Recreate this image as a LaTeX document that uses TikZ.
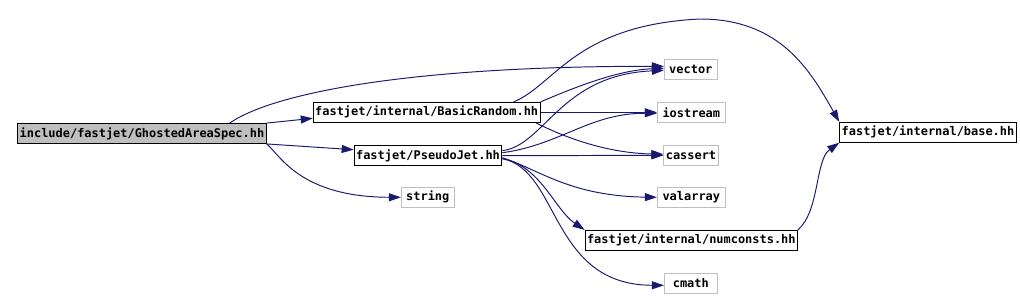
\documentclass[tikz,border=0pt]{standalone}
\usepackage{fontspec}
\setmonofont{DejaVu Sans Mono}
\usepackage{xcolor}
\usepackage{tikz}
\usetikzlibrary{arrows.meta}
\usetikzlibrary{backgrounds}
\usetikzlibrary{calc}
\pgfdeclarelayer{edgelayer}
\pgfdeclarelayer{nodelayer}
\pgfsetlayers{background,edgelayer,nodelayer,main}
\definecolor{incblue}{RGB}{25,25,112}
\definecolor{sysgray}{RGB}{191,191,191}
\tikzstyle{fn}=[draw=black,fill=white,line width=0.5pt,inner xsep=0.04cm,inner ysep=0mm,minimum height=0.4cm,font=\fontsize{6.8}{8}\selectfont\ttfamily\bfseries]
\tikzstyle{gn}=[fn,fill=sysgray]
\tikzstyle{sn}=[fn,draw=sysgray]
\tikzstyle{inc}=[draw=incblue,line width=0.55pt,-{Triangle[length=2.4mm,width=1.6mm]}]

\begin{document}
\begin{tikzpicture}[x=0.02cm,y=-0.02cm]
	\useasboundingbox (0,0) rectangle (1020,298);
	\begin{pgfonlayer}{nodelayer}
		\node [style=gn,minimum width=4.92cm] (main) at (142, 133.5) {include/fastjet/GhostedAreaSpec.hh};
		\node [style=fn,minimum width=4.54cm] (br) at (426.7, 112.3) {fastjet/internal/BasicRandom.hh};
		\node [style=fn,minimum width=2.86cm] (pj) at (428, 155.7) {fastjet/PseudoJet.hh};
		\node [style=sn,minimum width=1.06cm] (str) at (427.8, 197.3) {string};
		\node [style=sn,minimum width=1.06cm] (vec) at (690.8, 69.3) {vector};
		\node [style=sn,minimum width=1.36cm] (io) at (691.3, 112.3) {iostream};
		\node [style=sn,minimum width=1.08cm] (cas) at (691, 155.3) {cassert};
		\node [style=sn,minimum width=1.36cm] (val) at (691.3, 197.3) {valarray};
		\node [style=fn,minimum width=4.08cm] (num) at (691.3, 240.3) {fastjet/internal/numconsts.hh};
		\node [style=sn,minimum width=1.06cm] (cm) at (690.8, 283.3) {cmath};
		\node [style=fn,minimum width=3.26cm] (base) at (928, 132.3) {fastjet/internal/base.hh};
	\end{pgfonlayer}
	\begin{pgfonlayer}{edgelayer}
		% from GhostedAreaSpec.hh
		\draw [style=inc] (main.north east) to ($(br.west)+(0,6)$);
		\draw [style=inc] (main.south east) to ($(pj.west)+(0,-6)$);
		\draw [style=inc] (main.south east) .. controls (280,155) and (300,197) .. (str.west);
		\draw [style=inc] ($(main.north east)+(-37,0)$) .. controls (270,95) and (400,66) .. ($(vec.west)+(0,-3)$);
		% from BasicRandom.hh
		\draw [style=inc] (br.north east) .. controls (580,85) and (620,70) .. ($(vec.west)+(0,-1)$);
		\draw [style=inc] ($(br.north east)+(-27,0)$) .. controls (555,85) and (575,25) .. (700,19) .. controls (780,19) and (810,70) .. (base.north west);
		\draw [style=inc] (br.east) to (io.west);
		\draw [style=inc] ($(br.south east)+(-5,0)$) .. controls (570,140) and (610,153) .. ($(cas.west)+(0,-1)$);
		% from PseudoJet.hh
		\draw [style=inc] ($(pj.east)+(0,-5)$) .. controls (545,145) and (560,75) .. ($(vec.west)+(0,1)$);
		\draw [style=inc] ($(pj.east)+(0,-3)$) .. controls (560,145) and (590,113) .. ($(io.west)+(0,1)$);
		\draw [style=inc] (pj.east) to (cas.west);
		\draw [style=inc] ($(pj.east)+(0,2)$) .. controls (540,170) and (570,196) .. (val.west);
		\draw [style=inc] ($(pj.east)+(0,3)$) .. controls (540,165) and (555,210) .. (num.north west);
		\draw [style=inc] ($(pj.east)+(0,3)$) .. controls (560,170) and (550,285) .. ($(cm.west)+(0,2)$);
		% from numconsts.hh
		\draw [style=inc] (num.north east) .. controls (820,210) and (815,160) .. (base.south west);
	\end{pgfonlayer}
\end{tikzpicture}
\end{document}
